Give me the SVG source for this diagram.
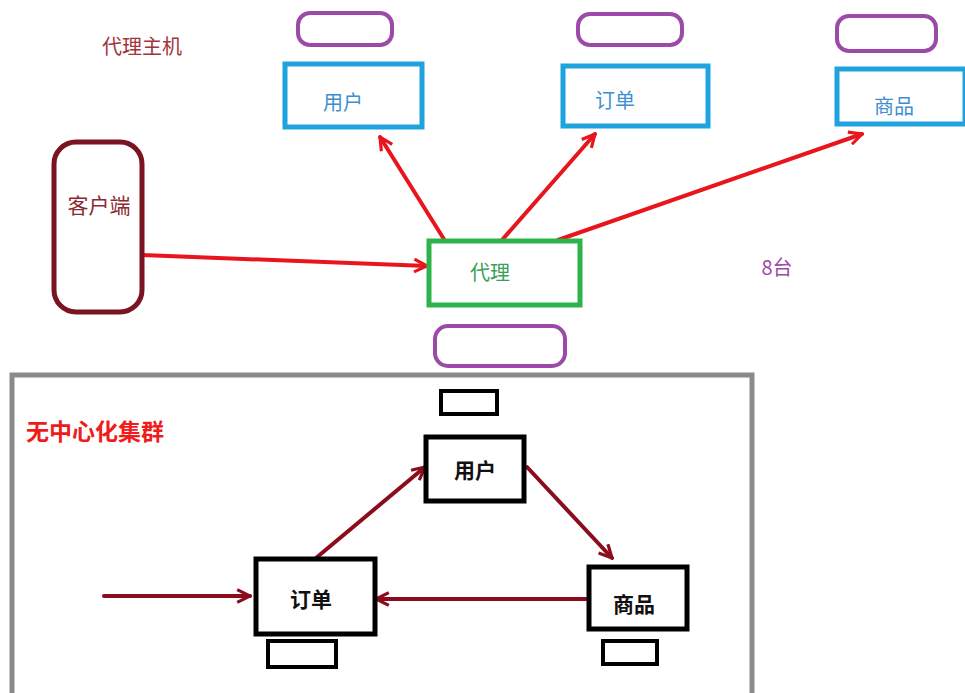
<svg xmlns="http://www.w3.org/2000/svg" width="965" height="693" viewBox="0 0 965 693">
<defs>
<style>
text{font-family:"Noto Sans CJK SC","Liberation Sans",sans-serif;dominant-baseline:central;text-anchor:middle}
.purple{fill:none;stroke:#9b4aa8;stroke-width:4}
.blue{fill:#fff;stroke:#1ea3de;stroke-width:5}
.bluet{fill:#3d8fd0;font-size:20px}
.blk{fill:#fff;stroke:#000;stroke-width:5}
.blks{fill:#fff;stroke:#000;stroke-width:4}
.blkt{fill:#111;font-size:21px;font-weight:bold}
.red{stroke:#e8161c;stroke-width:4;fill:none;stroke-linecap:round}
.dred{stroke:#8b0d1d;stroke-width:4;fill:none;stroke-linecap:round}
</style>
<marker id="ahr" viewBox="0 0 10 10" refX="9" refY="5" markerWidth="4" markerHeight="4" orient="auto" markerUnits="strokeWidth">
<path d="M1,1 L9,5 L1,9" fill="none" stroke="#e8161c" stroke-width="2"/>
</marker>
<marker id="ahd" viewBox="0 0 10 10" refX="9" refY="5" markerWidth="4" markerHeight="4" orient="auto" markerUnits="strokeWidth">
<path d="M1,1 L9,5 L1,9" fill="none" stroke="#8b0d1d" stroke-width="2"/>
</marker>
</defs>
<rect width="965" height="693" fill="#fff"/>

<text x="142" y="45" font-size="20" fill="#a0353c">代理主机</text>
<text x="777" y="266" font-size="20" fill="#9b4aa8">8台</text>

<g id="cluster">
<rect x="12" y="375" width="740" height="330" fill="none" stroke="#8a8a8a" stroke-width="5"/>
<text x="95" y="430" font-size="23" font-weight="bold" fill="#f01c1c">无中心化集群</text>
</g>

<g id="connectors">
<line class="red" x1="142" y1="255" x2="427" y2="266" marker-end="url(#ahr)"/>
<line class="red" x1="447" y1="244" x2="380" y2="137" marker-end="url(#ahr)"/>
<line class="red" x1="502" y1="240" x2="595" y2="134" marker-end="url(#ahr)"/>
<line class="red" x1="558" y1="240" x2="862" y2="134" marker-end="url(#ahr)"/>
<line class="dred" x1="310" y1="563" x2="425" y2="467" marker-end="url(#ahd)"/>
<line class="dred" x1="527" y1="467" x2="612" y2="558" marker-end="url(#ahd)"/>
<line class="dred" x1="586" y1="599" x2="376" y2="599" marker-end="url(#ahd)"/>
<line class="dred" x1="104" y1="596" x2="250" y2="596" marker-end="url(#ahd)"/>
</g>

<g id="client">
<rect x="54" y="142" width="88" height="170" rx="22" fill="none" stroke="#7a1420" stroke-width="5"/>
<text x="99" y="204" font-size="21" fill="#8b2a33">客户端</text>
</g>

<g id="user-top">
<rect class="purple" x="298" y="13" width="94" height="32" rx="12"/>
<rect class="blue" x="285" y="64" width="137" height="63"/>
<text class="bluet" x="343" y="101">用户</text>
</g>

<g id="order-top">
<rect class="purple" x="578" y="14" width="104" height="31" rx="12"/>
<rect class="blue" x="563" y="66" width="145" height="60"/>
<text class="bluet" x="615" y="99">订单</text>
</g>

<g id="goods-top">
<rect class="purple" x="837" y="16" width="99" height="35" rx="12"/>
<rect class="blue" x="837" y="69" width="128" height="55"/>
<text class="bluet" x="894" y="105">商品</text>
</g>

<g id="proxy">
<rect x="429" y="241" width="151" height="64" fill="#fff" stroke="#2db34a" stroke-width="5"/>
<text x="490" y="271" font-size="20" fill="#3aa05a">代理</text>
<rect class="purple" x="435" y="326" width="130" height="40" rx="13"/>
</g>

<g id="user-c">
<rect class="blks" x="441" y="391" width="56" height="23"/>
<rect class="blk" x="426" y="437" width="98" height="64"/>
<text class="blkt" x="475" y="469">用户</text>
</g>

<g id="order-c">
<rect class="blk" x="256" y="559" width="119" height="75"/>
<text class="blkt" x="311" y="598">订单</text>
<rect class="blks" x="268" y="641" width="68" height="26"/>
</g>

<g id="goods-c">
<rect class="blk" x="589" y="567" width="98" height="62"/>
<text class="blkt" x="634" y="603">商品</text>
<rect class="blks" x="603" y="641" width="54" height="23"/>
</g>
</svg>
